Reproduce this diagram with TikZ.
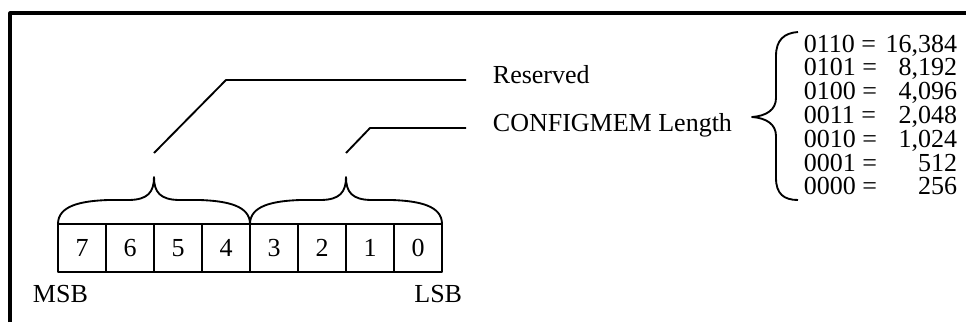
\documentclass[tikz,border=0pt]{standalone}
\usepackage{fontspec}
\setmainfont{Liberation Serif}
\begin{document}
\begin{tikzpicture}[x=0.75pt,y=-0.75pt,
  font=\fontsize{19.5}{21}\selectfont,
  line width=1.4pt, line join=round,
  bitbox/.style={draw, minimum width=36pt, minimum height=36pt, inner sep=0pt, line width=1.4pt},
  lbl/.style={anchor=base west, inner sep=0pt},
  rowl/.style={anchor=base west, inner sep=0pt},
  rowr/.style={anchor=base east, inner sep=0pt},
  frame/.style={line width=2.3pt}]
\useasboundingbox (0,0) rectangle (966,322);
% frame (top and left edges)
\draw[frame] (10,322) -- (10,13) -- (966,13);
% bit boxes
\foreach \d [count=\k from 0] in {7,6,5,4,3,2,1,0}
  \node[bitbox] (b\d) at (82+48*\k,248) {\d};
\node[anchor=base west, inner sep=0pt] (msb) at (32,302) {MSB};
\node[anchor=base east, inner sep=0pt] (lsb) at (463,302) {LSB};
% braces over the bits
\coordinate (tipA) at (154,177);
\coordinate (tipB) at (346,177);
\draw (58,224) .. controls (58,206) and (80,201) .. (108,200) -- (128,200)
  .. controls (148,200) and (154,192) .. (tipA)
  .. controls (154,192) and (160,200) .. (180,200) -- (200,200)
  .. controls (228,201) and (250,206) .. (250,224);
\draw (250,224) .. controls (250,206) and (272,201) .. (300,200) -- (320,200)
  .. controls (340,200) and (346,192) .. (tipB)
  .. controls (346,192) and (352,200) .. (372,200) -- (392,200)
  .. controls (420,201) and (442,206) .. (442,224);
% labels and leader lines
\node[lbl] (res) at (492,83) {Reserved};
\node[lbl] (cfg) at (492,131) {CONFIGMEM Length};
\coordinate (resA) at (154,153);
\coordinate (resB) at (226,80);
\coordinate (resC) at (466,80);
\coordinate (cfgA) at (346,153);
\coordinate (cfgB) at (370,128);
\coordinate (cfgC) at (466,128);
\draw (resA) -- (resB) -- (resC);
\draw (cfgA) -- (cfgB) -- (cfgC);
% big brace
\coordinate (bigtip) at (752,117);
\draw (798,32) .. controls (784,33) and (776,40) .. (776,56) -- (776,98)
  .. controls (776,110) and (766,116) .. (bigtip)
  .. controls (766,118) and (776,124) .. (776,136) -- (776,178)
  .. controls (776,194) and (784,200) .. (798,200);
% value table
\foreach \c/\v [count=\k from 0] in {0110/{16,384},0101/{8,192},0100/{4,096},0011/{2,048},0010/{1,024},0001/512,0000/256}{
  \node[rowl] (c\k) at (803,52+23.8*\k) {\c\ =};
  \node[rowr] (v\k) at (958,52+23.8*\k) {\v};
}
\end{tikzpicture}
\end{document}
